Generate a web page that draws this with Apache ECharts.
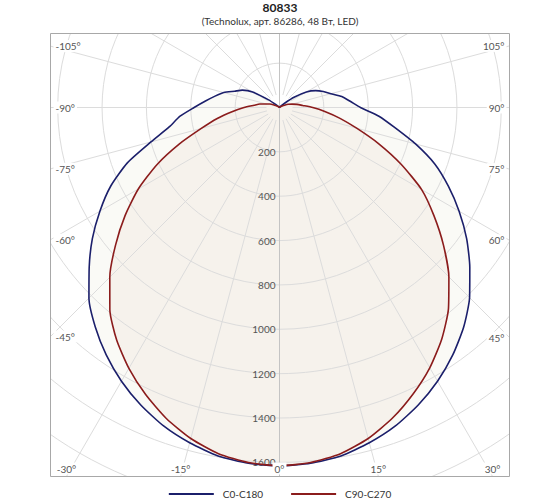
<!DOCTYPE html>
<html>
<head>
<meta charset="utf-8">
<script src="https://cdn.jsdelivr.net/npm/echarts@6/dist/echarts.min.js"></script>
<style>html,body{margin:0;padding:0;background:#fff}#c{width:560px;height:504px}</style>
</head>
<body>
<div id="c"></div>
<script>
// ---- data (candela values) ----
const angles = [
  -180,-175,-170,-165,-160,-155,-150,-145,-140,-135,-130,-125,-120,-115,-110,-105,-100,-95,-90,-85,-80,-75,-70,-65,-60,-55,-50,-45,-40,-35,-30,-25,-20,-15,-10,-5,
  0,
  5,10,15,20,25,30,35,40,45,50,55,60,65,70,75,80,85,90,95,100,105,110,115,120,125,130,135,140,145,150,155,160,165,170,175,180
];
const c0c180 = [
  0,0,0,0,0,0,0,0,0,5,15,60,140,185,215,260,295,335,385,450,505,600,730,840,935,1030,1120,1215,1292,1362,1425,1480,1528,1565,1595,1610,
  1615,
  1610,1595,1565,1528,1480,1425,1362,1292,1212,1120,1030,935,840,745,635,530,450,365,320,285,240,210,180,140,80,30,10,0,0,0,0,0,0,0,0,0
];
const c90c270 = [
  0,0,0,0,0,0,0,0,0,0,2,6,14,25,46,62,90,115,160,215,285,365,480,610,735,850,965,1082,1190,1280,1358,1428,1492,1545,1585,1607,
  1615,
  1607,1585,1545,1490,1425,1355,1275,1185,1080,965,850,740,605,475,360,275,205,150,105,80,58,42,25,14,6,2,0,0,0,0,0,0,0,0,0,0
];
const radiusTicks = [200,400,600,800,1000,1200,1400,1600];
const edgeAngles = [-105,-90,-75,-60,-45,-30,-15,0,15,30,45,60,75,90,105];
const seriesNames = ['C0-C180','C90-C270'];

// ---- layout ----
const FONT = "Lato, 'DejaVu Sans', sans-serif";
const CENTER = [279.5, 107.5];
const PLOT = {left: 50.5, top: 33.5, right: 509.5, bottom: 476.5};
const RMAX = 2000;
const RPX = 443.6;
const INNER_GAP = 13;

const toPolar = vals => vals.map((v, i) => [v, (angles[i] + 360) % 360]);

function edgeLabel(a) {
  const rad = a * Math.PI / 180;
  const dx = Math.sin(rad), dy = Math.cos(rad);
  let best = Infinity, side = null;
  const eps = 1e-9;
  if (dx < -eps) { const t = (PLOT.left - CENTER[0]) / dx; if (t < best) { best = t; side = 'left'; } }
  if (dx > eps)  { const t = (PLOT.right - CENTER[0]) / dx; if (t < best) { best = t; side = 'right'; } }
  if (dy > eps)  { const t = (PLOT.bottom - CENTER[1]) / dy; if (t < best) { best = t; side = 'bottom'; } }
  if (dy < -eps) { const t = (PLOT.top - CENTER[1]) / dy; if (t < best) { best = t; side = 'top'; } }
  const px = CENTER[0] + dx * best, py = CENTER[1] + dy * best;
  let x = px, y = py, align = 'center';
  if (side === 'left') { x = PLOT.left + 3; align = 'left'; }
  else if (side === 'right') { x = PLOT.right - 3; align = 'right'; }
  else if (side === 'bottom') { y = PLOT.bottom - 8; }
  return {
    type: 'text', x: x, y: y, z: 102, silent: true,
    style: {
      text: a + '°', fill: '#555', font: '10px ' + FONT,
      align: align, verticalAlign: 'middle',
      backgroundColor: '#fff', padding: [1, 2]
    }
  };
}

const masks = [
  {x: 0, y: 0, width: 560, height: PLOT.top},
  {x: 0, y: 0, width: PLOT.left, height: 504},
  {x: PLOT.right, y: 0, width: 560 - PLOT.right, height: 504},
  {x: 0, y: PLOT.bottom, width: 560, height: 504 - PLOT.bottom}
].map(s => ({type: 'rect', shape: s, z: 100, silent: true, style: {fill: '#fff', stroke: null}}));

// 15° spokes (the vertical one is drawn separately, through the centre)
const spokeColors = ['rgba(0,0,0,0)'];
for (let i = 0; i < 11; i++) spokeColors.push('#dcdcdc');

const chart = echarts.init(document.getElementById('c'), null, {renderer: 'svg'});
chart.setOption({
  animation: false,
  backgroundColor: '#fff',
  title: {
    text: '80833',
    subtext: '(Technolux, арт. 86286, 48 Вт, LED)',
    left: 'center', top: 0, padding: [1, 5], itemGap: 3, z: 200,
    textStyle: {fontFamily: FONT, fontSize: 12, fontWeight: 'bold', color: '#222'},
    subtextStyle: {fontFamily: FONT, fontSize: 10, color: '#333'}
  },
  legend: {
    data: seriesNames.map(n => ({name: n, icon: 'rect'})),
    left: 'center', top: 489, z: 200, padding: 0,
    itemWidth: 45, itemHeight: 2, itemGap: 28,
    textStyle: {fontFamily: FONT, fontSize: 10, color: '#333', padding: [0, 0, 0, 4]}
  },
  polar: [
    {center: CENTER, radius: [INNER_GAP, RPX], z: 2},
    {center: CENTER, radius: RPX, z: 2}
  ],
  angleAxis: [
    {
      polarIndex: 0, type: 'value', min: 0, max: 360, interval: 15,
      startAngle: 270, clockwise: false, z: 2,
      axisLine: {show: false}, axisTick: {show: false}, axisLabel: {show: false},
      splitLine: {show: true, lineStyle: {color: spokeColors, width: 1}}
    },
    {
      polarIndex: 1, type: 'value', min: 0, max: 360, interval: 180,
      startAngle: 270, clockwise: false, z: 2,
      axisLine: {show: false}, axisTick: {show: false}, axisLabel: {show: false},
      splitLine: {show: true, lineStyle: {color: '#c4c4c4', width: 1}}
    }
  ],
  radiusAxis: [
    {
      polarIndex: 0, type: 'value', min: 0, max: RMAX, z: 2,
      axisLine: {show: false}, axisTick: {show: false}, axisLabel: {show: false},
      splitLine: {show: false}
    },
    {
      polarIndex: 1, type: 'value', min: 0, max: RMAX, interval: 200, z: 2,
      axisLine: {show: false}, axisTick: {show: false},
      axisLabel: {
        show: true, margin: -4, align: 'right', verticalAlign: 'middle',
        fontFamily: FONT, fontSize: 10, color: '#555',
        formatter: v => radiusTicks.indexOf(v) >= 0 ? String(v) : ''
      },
      splitLine: {show: true, lineStyle: {color: '#dcdcdc', width: 1}}
    }
  ],
  graphic: masks.concat([
    {type: 'rect', z: 101, silent: true,
     shape: {x: PLOT.left, y: PLOT.top, width: PLOT.right - PLOT.left, height: PLOT.bottom - PLOT.top},
     style: {fill: 'none', stroke: '#a8a8a8', lineWidth: 1}}
  ]).concat(edgeAngles.map(edgeLabel)),
  series: [
    {name: 'fill0', type: 'line', coordinateSystem: 'polar', polarIndex: 1, data: toPolar(c0c180),
     symbol: 'none', smooth: 0.2, silent: true, z: 1,
     lineStyle: {width: 0, opacity: 0}, areaStyle: {color: '#fafaf6', opacity: 1}},
    {name: 'fill90', type: 'line', coordinateSystem: 'polar', polarIndex: 1, data: toPolar(c90c270),
     symbol: 'none', smooth: 0.2, silent: true, z: 1,
     lineStyle: {width: 0, opacity: 0}, areaStyle: {color: '#f6f2ec', opacity: 1}},
    {name: seriesNames[0], type: 'line', coordinateSystem: 'polar', polarIndex: 1, data: toPolar(c0c180),
     symbol: 'none', smooth: 0.2, z: 5,
     itemStyle: {color: '#1b1f6b'}, lineStyle: {color: '#1b1f6b', width: 1.6}},
    {name: seriesNames[1], type: 'line', coordinateSystem: 'polar', polarIndex: 1, data: toPolar(c90c270),
     symbol: 'none', smooth: 0.2, z: 5,
     itemStyle: {color: '#8b1c1c'}, lineStyle: {color: '#8b1c1c', width: 1.6}}
  ]
});
</script>
</body>
</html>
